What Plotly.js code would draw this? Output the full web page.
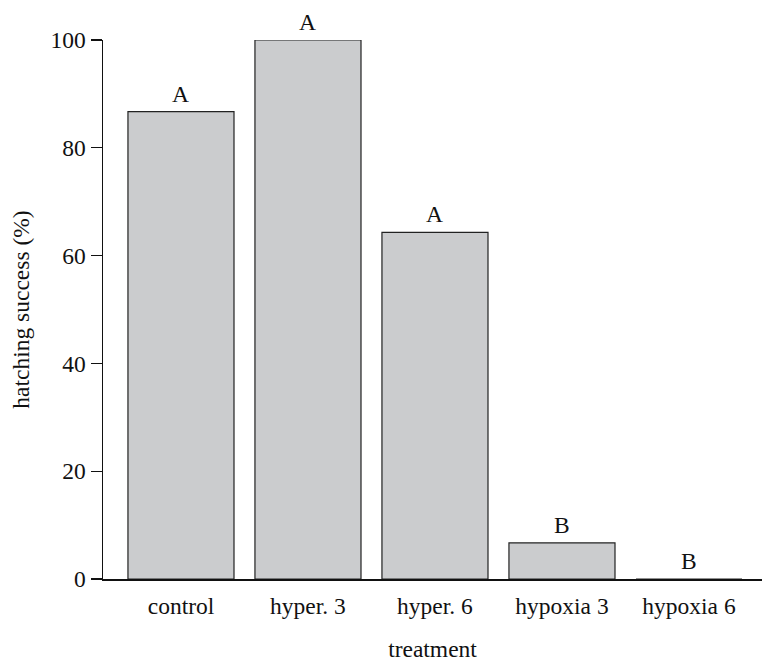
<!DOCTYPE html>
<html>
<head>
<meta charset="utf-8">
<script src="https://cdn.plot.ly/plotly-3.0.1.min.js"></script>
<style>html,body{margin:0;padding:0;background:#fff;}#chart{width:762px;height:662px;}</style>
</head>
<body>
<div id="chart"></div>
<script>
const categories = ["control", "hyper. 3", "hyper. 6", "hypoxia 3", "hypoxia 6"];
const hatchingSuccess = [86.7, 100, 64.3, 6.7, 0];
const groupLetters = ["A", "A", "A", "B", "B"];
const yTicks = [0, 20, 40, 60, 80, 100];

const font = "Liberation Serif, Times New Roman, serif";
const fs = 23.5;

const trace = {
  type: "bar",
  x: categories.map((c, i) => i),
  y: hatchingSuccess,
  width: 0.835,
  marker: {color: "#cbccce", line: {color: "#222222", width: 1.2}},
  hoverinfo: "none"
};

const annotations = categories.map((c, i) => ({
  x: i, y: hatchingSuccess[i], xref: "x", yref: "y",
  text: groupLetters[i], showarrow: false,
  yanchor: "bottom", yshift: 3,
  font: {family: font, size: fs, color: "#111"}
}));

const layout = {
  width: 762, height: 662,
  margin: {l: 103, r: 0, t: 40, b: 83},
  paper_bgcolor: "#fff", plot_bgcolor: "#fff",
  showlegend: false,
  font: {family: font, size: fs, color: "#111"},
  xaxis: {
    range: [-0.614, 4.575],
    tickmode: "array", tickvals: categories.map((c, i) => i), ticktext: categories,
    showline: true, linecolor: "#111", linewidth: 1.5,
    ticks: "", showgrid: false, zeroline: false,
    ticklabelstandoff: 5,
    tickfont: {family: font, size: fs, color: "#111"},
    title: {text: "treatment", font: {family: font, size: fs, color: "#111"}, standoff: 25}
  },
  yaxis: {
    range: [0, 100],
    tickmode: "array", tickvals: yTicks, ticktext: yTicks.map(String),
    showline: true, linecolor: "#111", linewidth: 1.5,
    ticks: "outside", ticklen: 11, tickwidth: 1.3, tickcolor: "#111",
    showgrid: false, zeroline: false,
    tickfont: {family: font, size: fs, color: "#111"},
    title: {text: "hatching success (%)", font: {family: font, size: fs, color: "#111"}, standoff: 14}
  },
  annotations: annotations
};

Plotly.newPlot("chart", [trace], layout, {staticPlot: true, displayModeBar: false});
</script>
</body>
</html>
